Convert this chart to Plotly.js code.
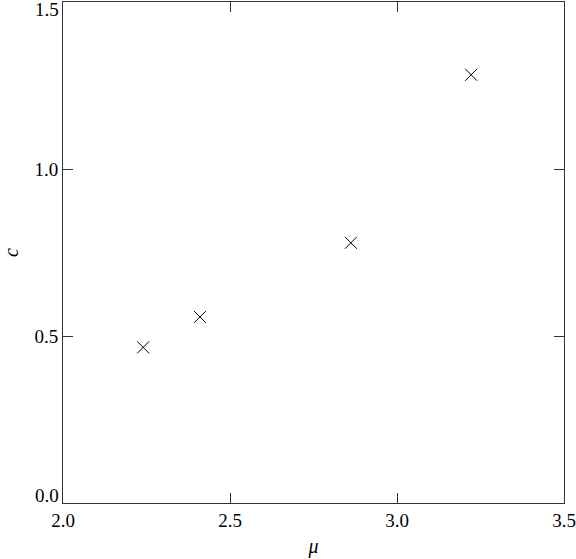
<!DOCTYPE html>
<html>
<head>
<meta charset="utf-8">
<script src="https://cdn.plot.ly/plotly-3.0.1.min.js"></script>
<style>
  html, body { margin: 0; padding: 0; background: #fff; }
  #plot { width: 576px; height: 559px; }
</style>
</head>
<body>
<div id="plot"></div>
<script>
var mu = [2.24, 2.41, 2.862, 3.222];
var c = [0.466, 0.557, 0.779, 1.282];
var xTicks = [2.0, 2.5, 3.0, 3.5];
var xTickText = ['2.0', '2.5', '3.0', '3.5'];
var yTicks = [0, 0.5, 1.0, 1.5];
var yTickText = ['0.0', '0.5', '1.0', '1.5'];

var serif = '"Liberation Serif", "Times New Roman", Times, serif';

var trace1 = {
  x: mu,
  y: c,
  mode: 'markers',
  type: 'scatter',
  marker: {
    symbol: 'x-thin',
    size: 12,
    line: {color: '#000', width: 1}
  },
  showlegend: false
};

var axisStyle = {
  showline: true,
  linecolor: '#333',
  linewidth: 1,
  mirror: 'ticks',
  ticks: 'inside',
  ticklen: 10,
  tickcolor: '#333',
  showgrid: false,
  zeroline: false,
  ticklabeloverflow: 'allow',
  tickfont: {family: serif, size: 19, color: '#000'}
};

// y labels at the ends sit inside the frame, like the original
var endLabels = [
  {y: yTicks[0], text: yTickText[0], yanchor: 'bottom', shift: -4},
  {y: yTicks[3], text: yTickText[3], yanchor: 'top', shift: 4}
].map(function (a) {
  return {
    xref: 'paper', yref: 'y', x: 0, y: a.y, text: a.text,
    xanchor: 'right', yanchor: a.yanchor, xshift: -3, yshift: a.shift,
    borderpad: 0,
    showarrow: false, font: {family: serif, size: 19, color: '#000'}
  };
});

var layout = {
  width: 576,
  height: 559,
  margin: {l: 63, r: 12, t: 2, b: 56},
  paper_bgcolor: '#fff',
  plot_bgcolor: '#fff',
  font: {family: serif, color: '#000'},
  xaxis: Object.assign({}, axisStyle, {
    range: [2.0, 3.5],
    tickvals: xTicks,
    ticktext: xTickText,
    title: {text: '<i>μ</i>', font: {family: serif, size: 20}, standoff: 9}
  }),
  yaxis: Object.assign({}, axisStyle, {
    range: [0, 1.5],
    tickvals: yTicks,
    ticktext: ['', yTickText[1], yTickText[2], ''],
    title: {text: '<i>c</i>', font: {family: serif, size: 20}, standoff: 18}
  }),
  annotations: endLabels
};

Plotly.newPlot('plot', [trace1], layout, {staticPlot: true});
</script>
</body>
</html>
